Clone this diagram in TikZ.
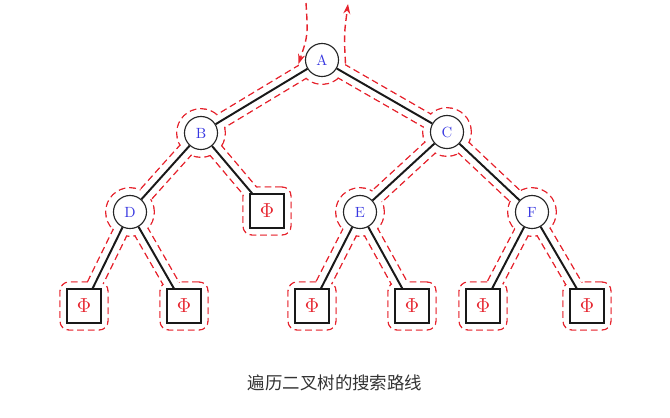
\documentclass[tikz,border=0pt]{standalone}
\usepackage{fontspec}
\newfontfamily\cjk{Noto Sans CJK SC}
\usetikzlibrary{arrows.meta,calc}
\definecolor{tracered}{RGB}{230,35,45}
\definecolor{letterblue}{RGB}{55,55,225}
\pgfdeclarelayer{trace}
\pgfdeclarelayer{blank}
\pgfsetlayers{trace,blank,main}

\begin{document}
\begin{tikzpicture}[x=0.025cm, y=-0.025cm,
        inner/.style = {circle, draw=black!85, line width=0.8pt, fill=white, text=letterblue, font=\fontsize{10.5}{12}\selectfont, minimum size=23.5pt, inner sep=0pt},
        leaf/.style = {rectangle, draw=black!90, line width=0.8pt, fill=white, text=tracered, font=\fontsize{15}{15}\selectfont, minimum size=24.2pt, inner sep=0pt},
        branch/.style = {draw=black!90, line width=1.4pt},
        dashes/.style = {dash pattern=on 4.8pt off 2.8pt},
        ring/.style = {circle, draw=tracered, line width=1pt, dashes, minimum size=34.5pt, inner sep=0pt},
        ringfill/.style = {circle, fill=white, minimum size=33.5pt, inner sep=0pt},
        boxring/.style = {rectangle, rounded corners=6.4pt, draw=tracered, line width=1pt, dashes, minimum size=34.1pt, inner sep=0pt},
        boxfill/.style = {rectangle, rounded corners=6pt, fill=white, minimum size=33.1pt, inner sep=0pt},
        trail/.style = {draw=tracered, line width=1pt, dashes},
        walk/.style = {trail, -{Stealth[length=7pt,width=5pt]}}]
    \useasboundingbox (0,0) rectangle (670,417);

    % tree
    \node[inner] (a) at (322,60) {A};
    \node[inner] (b) at (201,133) {B};
    \node[inner] (c) at (447,132) {C};
    \node[inner] (d) at (130,212) {D};
    \node[inner] (e) at (360,212) {E};
    \node[inner] (f) at (532,212) {F};
    \node[leaf] (l0) at (267,211) {$\Phi$};
    \node[leaf] (l1) at (84,306) {$\Phi$};
    \node[leaf] (l2) at (184,306) {$\Phi$};
    \node[leaf] (l3) at (312,306) {$\Phi$};
    \node[leaf] (l4) at (412,306) {$\Phi$};
    \node[leaf] (l5) at (483,306) {$\Phi$};
    \node[leaf] (l6) at (587,306) {$\Phi$};
    \foreach \u/\v in {a/b,a/c,b/d,b/l0,c/e,c/f,d/l1,d/l2,e/l3,e/l4,f/l5,f/l6}
        \draw[branch] (\u) -- (\v);

    % search path
    \begin{pgfonlayer}{trace}
        \foreach \u/\v in {a/b,a/c,b/d,b/l0,c/e,c/f,d/l1,d/l2,e/l3,e/l4,f/l5,f/l6} {
            \draw[trail] ($(\u.center)!5.3pt!90:(\v.center)$) -- ($(\v.center)!5.3pt!-90:(\u.center)$);
            \draw[trail] ($(\u.center)!5.3pt!-90:(\v.center)$) -- ($(\v.center)!5.3pt!90:(\u.center)$);
        }
        \foreach \n in {b,c,d,e,f}
            \node[ring] at (\n) {};
        \foreach \n in {l0,l1,l2,l3,l4,l5,l6}
            \node[boxring] at (\n) {};
        \draw[trail] ($(a)+(195:17.25pt)$) arc[start angle=195, end angle=345, radius=17.25pt];
    \end{pgfonlayer}
    \begin{pgfonlayer}{blank}
        \foreach \u/\v in {a/b,a/c,b/d,b/l0,c/e,c/f,d/l1,d/l2,e/l3,e/l4,f/l5,f/l6}
            \fill[white] ($(\u.center)!4.75pt!90:(\v.center)$) -- ($(\v.center)!4.75pt!-90:(\u.center)$)
                -- ($(\v.center)!4.75pt!90:(\u.center)$) -- ($(\u.center)!4.75pt!-90:(\v.center)$) -- cycle;
        \foreach \n in {a,b,c,d,e,f}
            \node[ringfill] at (\n) {};
        \foreach \n in {l0,l1,l2,l3,l4,l5,l6}
            \node[boxfill] at (\n) {};
    \end{pgfonlayer}
    \coordinate (in0) at (306,3);
    \coordinate (in1) at (298.5,64);
    \coordinate (out0) at (345.5,63.5);
    \coordinate (out1) at (348,4);
    \draw[walk] (in0) .. controls (308,35) .. (in1);
    \draw[walk] (out0) .. controls (344,35) .. (out1);

    \node[font=\cjk\fontsize{12.4}{14}\selectfont, text=black!80] (cap) at (335,383) {遍历二叉树的搜索路线};
\end{tikzpicture}
\end{document}
